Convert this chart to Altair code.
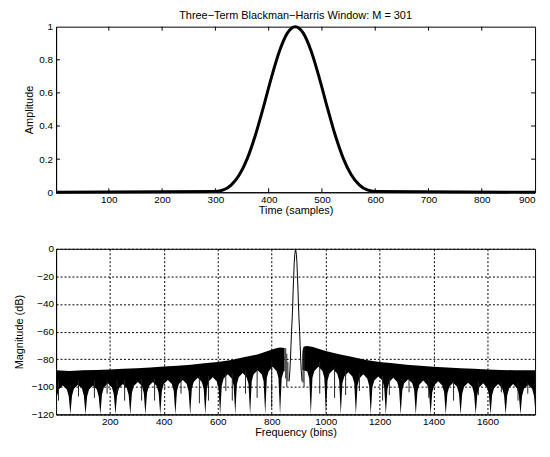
import altair as alt
import pandas as pd

FONT = "Liberation Sans"

# ---------------- top panel: window shape ----------------
time_samples = [1, 300, 315, 330, 345, 360, 375, 390, 405, 420, 435, 450,
                465, 480, 495, 510, 525, 540, 555, 570, 585, 600, 900]
amplitude = [0, 0.005, 0.014, 0.045, 0.106, 0.205, 0.344, 0.513, 0.691, 0.850, 0.961, 1.0,
             0.961, 0.850, 0.691, 0.513, 0.344, 0.205, 0.106, 0.045, 0.014, 0.005, 0]
x_top_ticks = [100, 200, 300, 400, 500, 600, 700, 800, 900]
y_top_ticks = [0, 0.2, 0.4, 0.6, 0.8, 1]

# ---------------- bottom panel: magnitude spectrum ----------------
# upper edge of the dense side-lobe band, left and right of the main lobe
upper_left_bins = [1, 50, 100, 150, 200, 250, 300, 350, 400, 450, 500, 550, 600, 650,
                   700, 750, 780, 810, 830, 848]
upper_left_db = [-88, -88.5, -88, -87.8, -87.5, -87, -86.5, -86, -85.3, -84.8, -84, -83,
                 -82, -80.5, -78.5, -76.5, -74.5, -72.5, -71.5, -71.8]
upper_right_bins = [914, 918, 930, 950, 1000, 1050, 1100, 1150, 1200, 1250, 1300, 1350,
                    1400, 1450, 1500, 1550, 1600, 1650, 1700, 1776]
upper_right_db = [-74, -71, -70.5, -71, -74, -76.5, -78.5, -80.5, -82, -83, -84, -84.8,
                  -85.5, -86, -86.5, -87, -87.5, -87.8, -88, -88]

# bins of the deep nulls and the height of the white arches between them
null_bins = [-2, 54, 110, 165, 221, 276, 332, 387, 443, 498, 554, 609, 665, 720, 776, 831,
             945, 1001, 1056, 1112, 1167, 1223, 1278, 1334, 1389, 1445, 1500, 1556, 1611,
             1667, 1722, 1778]
arch_top_db = [-99, -98.5, -99, -97.5, -98, -96.5, -96.5, -95, -95, -93.5, -93, -91, -90,
               -88, -85.5, -86, -85.5, -87.5, -89.5, -91, -92.5, -93.5, -94.5, -95.5, -96,
               -97, -97, -97.5, -98, -98, -98.5]

# thin grey spikes hanging below the band
spike_bins = [10, 84, 143, 190, 227, 255, 318, 366, 464, 532, 566, 630, 654, 703, 746, 800,
              852, 856, 860, 916, 920, 978, 1033, 1074, 1125, 1211, 1236, 1309, 1382, 1474,
              1566, 1651, 1713, 1749]
spike_top_db = [-95, -95, -95, -95, -95, -95, -94, -94, -93, -92, -92, -90, -90, -88, -86,
                -80, -72, -76, -82, -76, -72, -82, -86, -88, -90, -92, -93, -94, -95, -96,
                -96, -97, -97, -97]
spike_bottom_db = [-110, -107, -108, -105, -106, -110, -110, -110, -105, -112, -110, -103,
                   -110, -105, -108, -115, -94, -100, -96, -97, -100, -105, -108, -106,
                   -103, -110, -106, -104, -108, -110, -106, -104, -110, -105]

# main lobe
lobe_bins = [864.5, 867.5, 869.5, 871.5, 873.5, 876, 878, 879.5, 881.5, 883.5, 885.5, 888.5,
             891.5, 893.5, 895.5, 897.5, 899, 901, 903.5, 905.5, 907.5, 909.5, 912.5]
lobe_db = [-96, -88, -80, -70, -60, -50, -40, -30, -20, -10, -4, 0,
           -4, -10, -20, -30, -40, -50, -60, -70, -80, -88, -96]

x_bot_ticks = [200, 400, 600, 800, 1000, 1200, 1400, 1600]
y_bot_ticks = [0, -20, -40, -60, -80, -100, -120]

W, H = 483, 167

# ---------------- tables ----------------
top_df = pd.DataFrame({"t": time_samples, "a": amplitude})
xt_df = pd.DataFrame({"t": x_top_ticks[:-1]})
yt_df = pd.DataFrame({"a": y_top_ticks[1:-1]})

upper_df = pd.concat([
    pd.DataFrame({"f": upper_left_bins, "db": upper_left_db, "seg": "L"}),
    pd.DataFrame({"f": upper_right_bins, "db": upper_right_db, "seg": "R"}),
])

arch_rows = []
for i, top in enumerate(arch_top_db):
    a, b = null_bins[i], null_bins[i + 1]
    arch_rows += [(a, -120), (a + 6, top - 8), (a + 13, top - 3), ((a + b) / 2, top),
                  (b - 13, top - 3), (b - 6, top - 8)]
arch_rows.append((null_bins[-1], -120))
arch_df = pd.DataFrame(arch_rows, columns=["f", "db"])

spike_df = pd.DataFrame({"f": spike_bins, "db": spike_top_db, "db2": spike_bottom_db})
lobe_df = pd.DataFrame({"f": lobe_bins, "db": lobe_db})

# ---------------- top chart ----------------
xt_enc = alt.X("t:Q", scale=alt.Scale(domain=[1, 900], nice=False, zero=False),
               title="Time (samples)",
               axis=alt.Axis(values=x_top_ticks, tickCount=20, ticks=False, grid=False,
                             labelFlush=True, labelOverlap=False, labelPadding=2,
                             titlePadding=0))
yt_enc = alt.Y("a:Q", scale=alt.Scale(domain=[0, 1], nice=False), title="Amplitude",
               axis=alt.Axis(values=y_top_ticks, tickCount=20, format="~g", ticks=False,
                             grid=False, labelOverlap=False, labelPadding=3.5,
                             titlePadding=4.5))

top_line = alt.Chart(top_df).mark_line(color="black", strokeWidth=3, interpolate="monotone").encode(
    x=xt_enc, y=yt_enc)
tick_bottom = alt.Chart(xt_df).mark_rule(color="black").encode(
    x=xt_enc, y=alt.value(H), y2=alt.value(H - 4))
tick_top = alt.Chart(xt_df).mark_rule(color="black").encode(
    x=xt_enc, y=alt.value(0), y2=alt.value(4))
tick_left = alt.Chart(yt_df).mark_rule(color="black").encode(
    y=yt_enc, x=alt.value(0), x2=alt.value(4))
tick_right = alt.Chart(yt_df).mark_rule(color="black").encode(
    y=yt_enc, x=alt.value(W), x2=alt.value(W - 4))

top = alt.layer(top_line, tick_bottom, tick_top, tick_left, tick_right).properties(
    width=W, height=H,
    title=alt.TitleParams("Three−Term Blackman−Harris Window: M = 301", fontSize=11,
                          fontWeight="normal", font=FONT, color="black", offset=0,
                          frame="group"),
)

# ---------------- bottom chart ----------------
xs_bot = alt.Scale(domain=[1, 1776], nice=False, zero=False)
ys_bot = alt.Scale(domain=[-120, 0], nice=False)
grid_kw = dict(grid=True, gridColor="black", gridOpacity=1, gridWidth=1, gridDash=[2, 2],
               ticks=False, zindex=1, labelOverlap=False, tickCount=20)
xb = alt.X("f:Q", scale=xs_bot, title="Frequency (bins)",
           axis=alt.Axis(values=x_bot_ticks, format="d", labelFlush=False, labelPadding=2,
                         titlePadding=0, **grid_kw))
yb = alt.Y("db:Q", scale=ys_bot, title="Magnitude (dB)",
           axis=alt.Axis(values=y_bot_ticks, format="d", labelPadding=2.5, titlePadding=7,
                         **grid_kw))

band = alt.Chart(upper_df).mark_area(color="black", opacity=1, clip=True).encode(
    x=xb, y=yb, y2=alt.datum(-120), detail="seg:N")
arches = alt.Chart(arch_df).mark_area(color="white", opacity=1, clip=True).encode(
    x=xb, y=yb, y2=alt.datum(-120))
spikes = alt.Chart(spike_df).mark_rule(color="#222222", strokeWidth=1, clip=True).encode(
    x=xb, y=yb, y2="db2:Q")
lobe = alt.Chart(lobe_df).mark_line(color="black", strokeWidth=1, clip=True).encode(x=xb, y=yb)

bottom = alt.layer(band, arches, spikes, lobe).properties(width=W, height=H)

chart = alt.vconcat(top, bottom, spacing=57, bounds="flush").properties(
    padding={"left": 4.5, "right": 0, "top": -1, "bottom": 0}
).configure_axis(
    labelFont=FONT, labelFontSize=10, labelColor="black", labelOverlap=False,
    titleFont=FONT, titleFontSize=11, titleFontWeight="normal", titleColor="black",
    domainColor="black",
).configure_view(stroke="black", strokeWidth=1)

chart.save("out.html", embed_options={"renderer": "svg", "actions": False})
